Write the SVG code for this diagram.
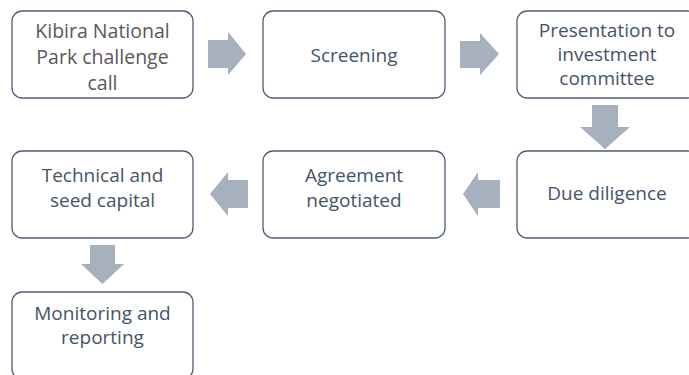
<svg xmlns="http://www.w3.org/2000/svg" width="689" height="375" viewBox="0 0 689 375">
<style>
.box{fill:#ffffff;stroke:#4d5f75;stroke-width:1.3}
.t{font-family:"Open Sans","Liberation Sans",sans-serif;font-size:19px;fill:#44546a;text-anchor:middle}
.k{font-family:"Open Sans","Liberation Sans",sans-serif;font-size:19.5px;fill:#595959;text-anchor:middle}
.arr{fill:#a7b0bd}
</style>
<rect width="689" height="375" fill="#ffffff"/>
<g id="n1"><rect class="box" x="12" y="11" width="181" height="87" rx="10"/>
<text class="k" x="102.5" y="38">Kibira National</text><text class="k" x="102.5" y="64">Park challenge</text><text class="k" x="102.5" y="90">call</text></g>
<g id="n2"><rect class="box" x="263" y="11" width="182" height="87" rx="10"/>
<text class="t" x="354" y="62">Screening</text></g>
<g id="n3"><rect class="box" x="517" y="11" width="181" height="87" rx="10"/>
<text class="t" x="607" y="37">Presentation to</text><text class="t" x="607" y="61">investment</text><text class="t" x="607" y="85">committee</text></g>
<g id="n4"><rect class="box" x="517" y="151" width="181" height="87" rx="10"/>
<text class="t" x="607" y="200">Due diligence</text></g>
<g id="n5"><rect class="box" x="263" y="151" width="182" height="87" rx="10"/>
<text class="t" x="354" y="182">Agreement</text><text class="t" x="354" y="207">negotiated</text></g>
<g id="n6"><rect class="box" x="12" y="151" width="181" height="87" rx="10"/>
<text class="t" x="102.5" y="182">Technical and</text><text class="t" x="102.5" y="207">seed capital</text></g>
<g id="n7"><rect class="box" x="12" y="292" width="181" height="87" rx="10"/>
<text class="t" x="102.5" y="320">Monitoring and</text><text class="t" x="102.5" y="344">reporting</text></g>
<g id="connectors">
<polygon class="arr" points="208,40 228,40 228,32 246,54 228,75 228,68 208,68"/>
<polygon class="arr" points="460,41 480,41 480,33 499,54 480,75 480,68 460,68"/>
<polygon class="arr" points="592,105 618,105 618,127 630,127 605,149 580,127 592,127"/>
<polygon class="arr" points="500,180 478,180 478,172 463,194 478,216 478,208 500,208"/>
<polygon class="arr" points="248,180 228,180 228,172 210,194 228,216 228,208 248,208"/>
<polygon class="arr" points="90,245 115,245 115,264 124,264 102.5,284 81,264 90,264"/>
</g>
</svg>
